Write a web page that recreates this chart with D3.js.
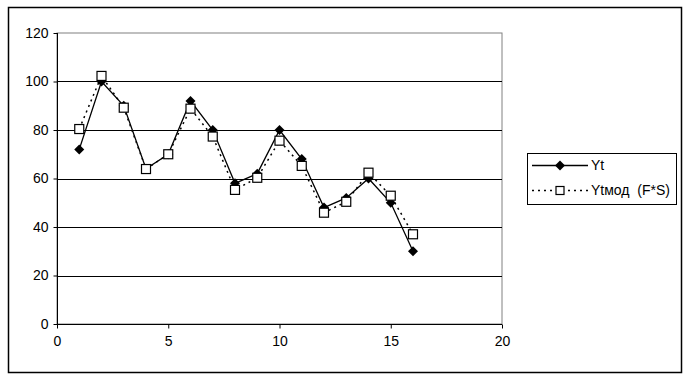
<!DOCTYPE html>
<html>
<head>
<meta charset="utf-8">
<script src="https://cdn.jsdelivr.net/npm/d3@7"></script>
<style>
  body { margin: 0; background: #fff; }
  text { font-family: "Liberation Sans", Arial, sans-serif; font-size: 14px; fill: #000; }
</style>
</head>
<body>
<div id="chart"></div>
<script>
var periods = [1, 2, 3, 4, 5, 6, 7, 8, 9, 10, 11, 12, 13, 14, 15, 16];
var yt = [72, 100, 90, 64, 70, 92, 80, 58, 62, 80, 68, 48, 52, 60, 50, 30];
var ytMod = [80.4, 102.3, 89.2, 63.9, 70, 88.8, 77.3, 55.3, 60.3, 75.6, 65.2, 45.9, 50.4, 62.4, 52.9, 37];
var xTicks = [0, 5, 10, 15, 20];
var yTicks = [0, 20, 40, 60, 80, 100, 120];
var seriesNames = ["Yt", "Ytмод  (F*S)"];

var width = 690, height = 380;
var svg = d3.select("#chart").append("svg")
  .attr("width", width).attr("height", height);

// outer frame
svg.append("rect")
  .attr("x", 8.5).attr("y", 7.5).attr("width", 673).attr("height", 365)
  .attr("fill", "none").attr("stroke", "#000").attr("stroke-width", 1.5);

var x = d3.scaleLinear().domain([0, 20]).range([57, 502]);
var y = d3.scaleLinear().domain([0, 120]).range([324, 33]);

// plot area border (gray)
svg.append("rect")
  .attr("x", x(0)).attr("y", y(120))
  .attr("width", x(20) - x(0)).attr("height", y(0) - y(120))
  .attr("fill", "none").attr("stroke", "#808080").attr("stroke-width", 1);

// gridlines
svg.append("g").selectAll("line")
  .data(yTicks.filter(d => d > 0 && d < 120))
  .enter().append("line")
  .attr("x1", x(0)).attr("x2", x(20))
  .attr("y1", d => Math.round(y(d)) + 0.5).attr("y2", d => Math.round(y(d)) + 0.5)
  .attr("stroke", "#000");

// axes
var yAxis = svg.append("g")
  .attr("transform", "translate(" + (x(0) + 0.5) + ",0)")
  .call(d3.axisLeft(y).tickValues(yTicks).tickSize(4).tickPadding(5));
var xAxis = svg.append("g")
  .attr("transform", "translate(0," + (y(0) + 0.5) + ")")
  .call(d3.axisBottom(x).tickValues(xTicks).tickSize(4).tickPadding(8));
[yAxis, xAxis].forEach(function(a) {
  a.select(".domain").attr("stroke", "#000");
  a.selectAll(".tick line").attr("stroke", "#000");
  a.selectAll("text").attr("font-size", 14).attr("font-family", "Liberation Sans, Arial, sans-serif").attr("fill", "#000");
});
xAxis.select(".domain").attr("d", "M" + x(0) + ",0H" + x(20));
yAxis.select(".domain").attr("d", "M0," + y(0) + "V" + y(120));

var line = d3.line().x((d, i) => x(periods[i])).y(d => y(d));

// Ytмод dotted
svg.append("path").datum(ytMod)
  .attr("d", line).attr("fill", "none")
  .attr("stroke", "#000").attr("stroke-width", 1.5)
  .attr("stroke-dasharray", "2,4");
// Yt solid
svg.append("path").datum(yt)
  .attr("d", line).attr("fill", "none")
  .attr("stroke", "#000").attr("stroke-width", 1.3);

var diamond = d3.symbol().type(d3.symbolDiamond2).size(64);

svg.append("g").selectAll("path")
  .data(yt).enter().append("path")
  .attr("d", diamond)
  .attr("transform", (d, i) => "translate(" + x(periods[i]) + "," + y(d) + ")")
  .attr("fill", "#000");

svg.append("g").selectAll("rect")
  .data(ytMod).enter().append("rect")
  .attr("x", (d, i) => x(periods[i]) - 4.5).attr("y", d => y(d) - 4.5)
  .attr("width", 9).attr("height", 9)
  .attr("fill", "#fff").attr("stroke", "#000").attr("stroke-width", 1.2);

// legend
var lg = svg.append("g");
lg.append("rect")
  .attr("x", 527.5).attr("y", 153.5).attr("width", 149).attr("height", 51)
  .attr("fill", "#fff").attr("stroke", "#000");

lg.append("line").attr("x1", 532).attr("x2", 588).attr("y1", 165.5).attr("y2", 165.5)
  .attr("stroke", "#000").attr("stroke-width", 1.3);
lg.append("path").attr("d", diamond).attr("transform", "translate(560,165.5)").attr("fill", "#000");
lg.append("text").attr("x", 591).attr("y", 170).text(seriesNames[0]);

lg.append("line").attr("x1", 532).attr("x2", 588).attr("y1", 190.5).attr("y2", 190.5)
  .attr("stroke", "#000").attr("stroke-width", 1.5).attr("stroke-dasharray", "2,4");
lg.append("rect").attr("x", 556).attr("y", 186.5).attr("width", 8).attr("height", 8)
  .attr("fill", "#fff").attr("stroke", "#000").attr("stroke-width", 1.2);
lg.append("text").attr("x", 591).attr("y", 195).attr("xml:space", "preserve").text(seriesNames[1]);
</script>
</body>
</html>
